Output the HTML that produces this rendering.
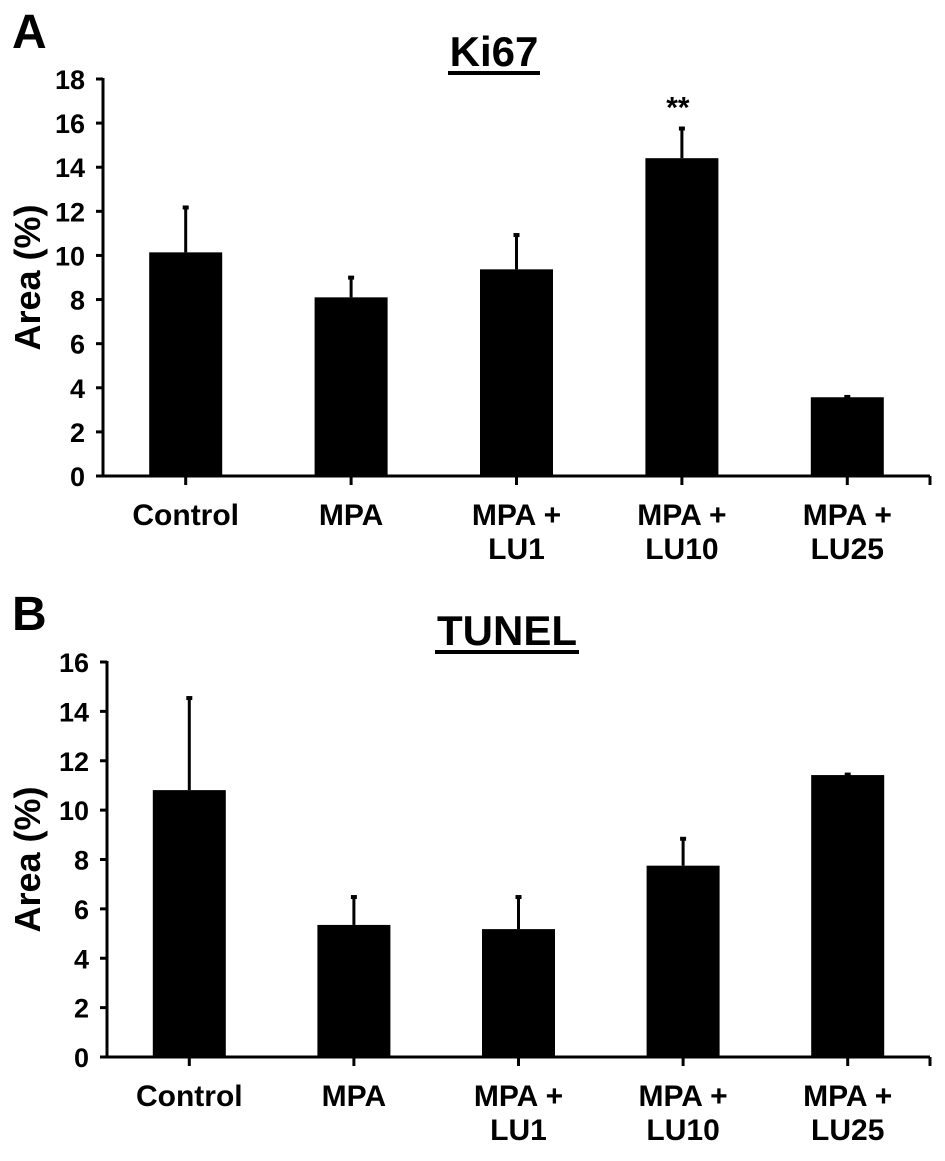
<!DOCTYPE html>
<html><head><meta charset="utf-8"><style>
html,body{margin:0;padding:0;background:#fff}
svg text{font-family:"Liberation Sans",Arial,sans-serif;font-weight:bold;fill:#000}
</style></head><body>
<svg id="fig" width="945" height="1156" viewBox="0 0 945 1156" xmlns="http://www.w3.org/2000/svg">
<text x="12" y="48" font-size="48">A</text>
<text x="12" y="630" font-size="48">B</text>
<g id="chartA"></g>
<g id="chartB"></g>
</svg>
<script>
const categories = [["Control"],["MPA"],["MPA +","LU1"],["MPA +","LU10"],["MPA +","LU25"]];
const ki67Values = [10.14, 8.1, 9.37, 14.41, 3.57];
const ki67Errors = [2.08, 0.94, 1.6, 1.39, 0.06];
const ki67Ticks = [0,2,4,6,8,10,12,14,16,18];
const ki67Sig = ["", "", "", "**", ""];
const tunelValues = [10.81, 5.35, 5.18, 7.75, 11.42];
const tunelErrors = [3.77, 1.17, 1.34, 1.13, 0.06];
const tunelTicks = [0,2,4,6,8,10,12,14,16];

const NS = "http://www.w3.org/2000/svg";
function mk(parent, tag, attrs, text){
  const e = document.createElementNS(NS, tag);
  for (const k in attrs) e.setAttribute(k, attrs[k]);
  if (text !== undefined) e.textContent = text;
  parent.appendChild(e);
  return e;
}
function drawChart(g, cfg){
  const yMax = cfg.ticks[cfg.ticks.length-1];
  const yScale = v => cfg.y0 - (v / yMax) * (cfg.y0 - cfg.yTop);
  const step = (cfg.xEnd - cfg.axisX) / categories.length;
  const xCenter = i => cfg.axisX + step * (i + 0.5);
  // title
  const t = mk(g, 'text', {x: cfg.titleX, y: cfg.titleY, 'font-size': 42, 'text-anchor': 'middle'}, cfg.title);
  
  
  const tw = cfg.titleW;
  const ul = mk(g, 'rect', {x: cfg.titleX - tw/2, y: cfg.titleY + 5, width: tw, height: 4, fill: '#000'});
  
  
  // y title
  const yt = mk(g, 'text', {x: 0, y: 0, 'font-size': 36, 'text-anchor': 'middle', transform: `translate(40,${(cfg.y0+cfg.yTop)/2}) rotate(-90)`}, 'Area (%)');
  
  
  // bars
  cfg.values.forEach((v, i) => {
    const cx = xCenter(i);
    const eTop = yScale(v + cfg.errors[i]);
    const el = mk(g, 'line', {x1: cx, x2: cx, y1: yScale(v), y2: eTop, stroke: '#000', 'stroke-width': 3});
    
    
    const cap = mk(g, 'rect', {x: cx - 3, y: eTop - 1, width: 6, height: 4, fill: '#000'});
    
    
    const b = mk(g, 'rect', {x: cx - 36.5, y: yScale(v), width: 73, height: cfg.y0 - yScale(v), fill: '#000'});
    
    
    if (cfg.sig && cfg.sig[i]) {
      const s = mk(g, 'text', {x: cx - 4, y: eTop - 10, 'font-size': 30, 'text-anchor': 'middle'}, cfg.sig[i]);
      
      
    }
    // x tick
    const xt = mk(g, 'line', {x1: cx, x2: cx, y1: cfg.y0, y2: cfg.y0 + 9, stroke: '#000', 'stroke-width': 3});
    
    
    categories[i].forEach((line, j) => {
      const lt = mk(g, 'text', {x: cx, y: cfg.y0 + 49 + j * 34, 'font-size': 30, 'text-anchor': 'middle'}, line);
      
      
    });
  });
  // axes
  const ya = mk(g, 'line', {x1: cfg.axisX, x2: cfg.axisX, y1: cfg.yTop - 1, y2: cfg.y0 + 1.5, stroke: '#000', 'stroke-width': 3});
  
  
  const xa = mk(g, 'line', {x1: cfg.axisX, x2: cfg.xEnd, y1: cfg.y0, y2: cfg.y0, stroke: '#000', 'stroke-width': 3});
  
  
  const xe = mk(g, 'line', {x1: cfg.xEnd, x2: cfg.xEnd, y1: cfg.y0, y2: cfg.y0 + 9, stroke: '#000', 'stroke-width': 3});
  
  
  cfg.ticks.forEach(tv => {
    const y = yScale(tv);
    const tk = mk(g, 'line', {x1: cfg.axisX - 7, x2: cfg.axisX, y1: y, y2: y, stroke: '#000', 'stroke-width': 3});
    
    
    const tl = mk(g, 'text', {x: cfg.axisX - 18, y: y + 10, 'font-size': 27, 'text-anchor': 'end'}, String(tv));
    
    
  });
}
drawChart(document.getElementById('chartA'), {
  values: ki67Values, errors: ki67Errors, ticks: ki67Ticks, sig: ki67Sig,
  y0: 476, yTop: 79, axisX: 103, xEnd: 930, title: 'Ki67', titleX: 494, titleY: 66, titleW: 92
});
drawChart(document.getElementById('chartB'), {
  values: tunelValues, errors: tunelErrors, ticks: tunelTicks,
  y0: 1057, yTop: 662, axisX: 107, xEnd: 930, title: 'TUNEL', titleX: 507, titleY: 645, titleW: 144
});
</script>
</body></html>
